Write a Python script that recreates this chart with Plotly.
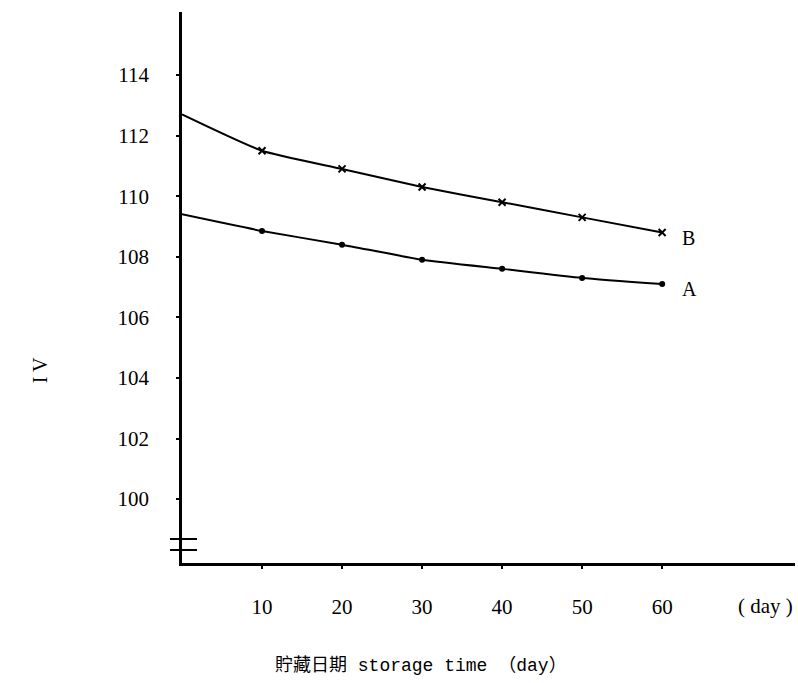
import plotly.graph_objects as go

# ---- data ----
days = [0, 10, 20, 30, 40, 50, 60]
iv_B = [112.7, 111.5, 110.9, 110.3, 109.8, 109.3, 108.8]
iv_A = [109.4, 108.85, 108.4, 107.9, 107.6, 107.3, 107.1]
x_ticks = [10, 20, 30, 40, 50, 60]
y_ticks = [100, 102, 104, 106, 108, 110, 112, 114]
series_labels = ["B", "A"]

SERIF = "Liberation Serif, Times New Roman, serif"

fig = go.Figure()

# B: line from day 0, markers from day 10
fig.add_trace(go.Scatter(
    x=days, y=iv_B, mode="lines", line=dict(color="black", width=2, shape="spline", smoothing=0.5),
    showlegend=False, hoverinfo="skip"))
fig.add_trace(go.Scatter(
    x=days[1:], y=iv_B[1:], mode="markers",
    marker=dict(symbol="x-thin", size=7, color="black", line=dict(color="black", width=2)),
    showlegend=False))
fig.add_trace(go.Scatter(
    x=days, y=iv_A, mode="lines", line=dict(color="black", width=2, shape="spline", smoothing=0.5),
    showlegend=False, hoverinfo="skip"))
fig.add_trace(go.Scatter(
    x=days[1:], y=iv_A[1:], mode="markers",
    marker=dict(symbol="circle", size=6, color="black"),
    showlegend=False))

# series labels at the end of each curve
for lab, ys in zip(series_labels, [iv_B, iv_A]):
    fig.add_annotation(x=days[-1], y=ys[-1], text=lab, showarrow=False,
                       xanchor="left", yanchor="middle", xshift=18, yshift=-5,
                       font=dict(family=SERIF, size=20, color="black"))

# unit label on x axis
fig.add_annotation(x=1.0, y=0, xref="paper", yref="paper", text="( day )", showarrow=False,
                   xanchor="right", yanchor="middle", yshift=-43, xshift=0,
                   font=dict(family=SERIF, size=21, color="black"))

# y axis title
fig.add_annotation(x=-0.2316, y=0.35, xref="paper", yref="paper", text="I V", showarrow=False,
                   xanchor="center", yanchor="middle",
                   textangle=-90, font=dict(family=SERIF, size=20, color="black"))

# x axis title
fig.add_annotation(x=0.39, y=0, xref="paper", yref="paper",
                   text="貯藏日期 storage time （day）", showarrow=False,
                   yanchor="middle", yshift=-102,
                   font=dict(family="Liberation Mono, Noto Sans CJK TC, monospace", size=18, color="black"))

# axis-break marks
for yb in [0.0436, 0.0236]:
    fig.add_shape(type="line", xref="paper", yref="paper", x0=-0.0196, x1=0.0245, y0=yb, y1=yb,
                  line=dict(color="black", width=2))

fig.update_layout(
    width=798, height=683,
    margin=dict(l=182, r=3, t=12, b=120),
    paper_bgcolor="white", plot_bgcolor="white",
    xaxis=dict(range=[0, 76.6], tickvals=x_ticks, ticktext=[str(v) for v in x_ticks],
               showgrid=False, zeroline=False, showline=True, linecolor="black", linewidth=2.5,
               ticks="outside", ticklen=3, tickwidth=2, tickcolor="black",
               ticklabelstandoff=20,
               tickfont=dict(family=SERIF, size=21, color="black")),
    yaxis=dict(range=[97.89, 116.08], tickvals=y_ticks, ticktext=[str(v) for v in y_ticks],
               showgrid=False, zeroline=False, showline=True, linecolor="black", linewidth=2.5,
               ticks="outside", ticklen=3, tickwidth=2, tickcolor="black",
               ticklabelstandoff=23,
               tickfont=dict(family=SERIF, size=21, color="black")),
    showlegend=False,
)

fig.write_html("out.html")
